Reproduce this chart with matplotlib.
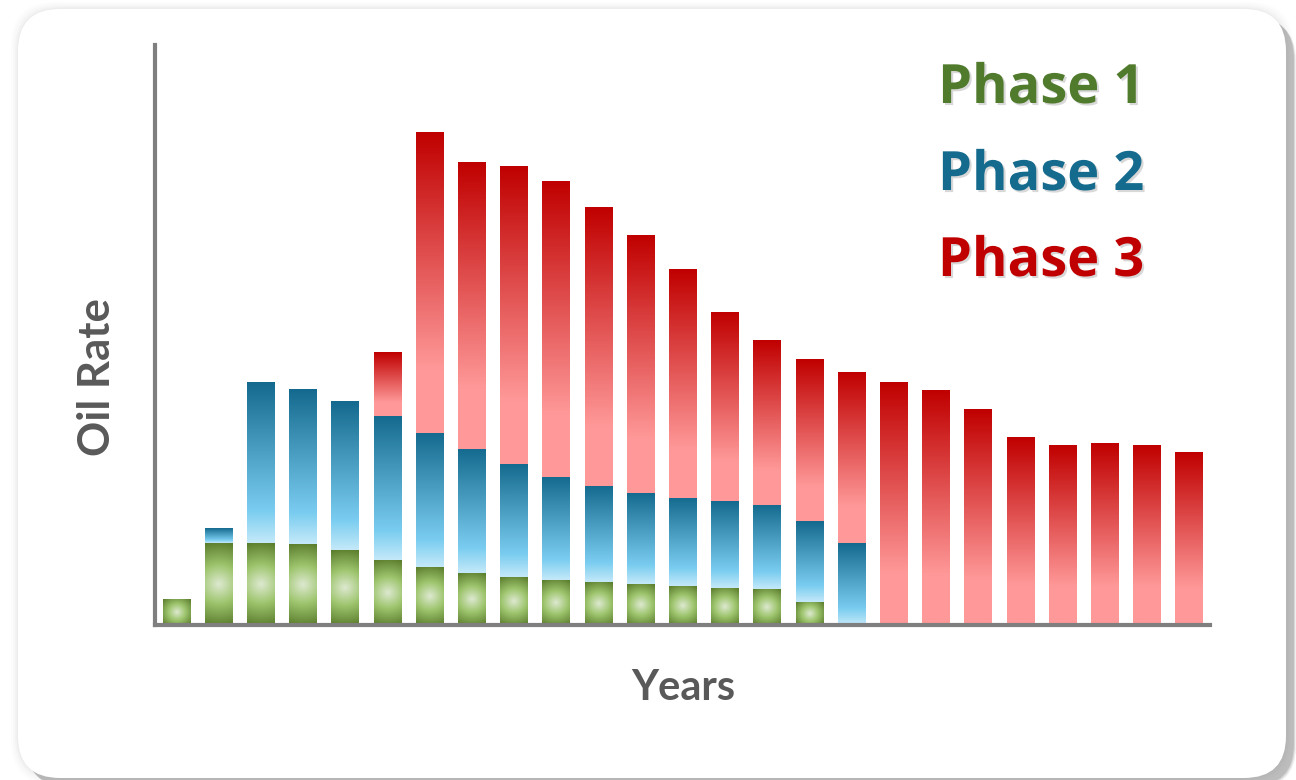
import numpy as np
import matplotlib
matplotlib.use("Agg")
import matplotlib.pyplot as plt
from matplotlib.colors import LinearSegmentedColormap
from matplotlib.patches import FancyBboxPatch
import matplotlib.patheffects as pe

# Oil rate by phase for each year (stacked, arbitrary units)
years = list(range(1, 26))
phase1 = [2.6, 8.2, 8.2, 8.1, 7.5, 6.5, 5.8, 5.2, 4.8, 4.5, 4.3, 4.1, 3.9, 3.7, 3.6, 2.3,
          0, 0, 0, 0, 0, 0, 0, 0, 0]
phase2 = [0, 1.5, 16.0, 15.4, 14.8, 14.4, 13.4, 12.4, 11.3, 10.3, 9.6, 9.1, 8.8, 8.7, 8.4, 8.1,
          8.2, 0, 0, 0, 0, 0, 0, 0, 0]
phase3 = [0, 0, 0, 0, 0, 6.4, 30.1, 28.7, 29.8, 29.6, 27.9, 25.8, 22.9, 18.8, 16.5, 16.1,
          17.0, 24.2, 23.4, 21.5, 18.7, 17.9, 18.1, 17.9, 17.2]
phase_labels = ["Phase 1", "Phase 2", "Phase 3"]
phase_colors = ["#507A2C", "#156B8E", "#C00000"]

W, H = 1296, 780
fig = plt.figure(figsize=(W / 100, H / 100), dpi=100)
fig.patch.set_facecolor("white")

# Card background with soft drop shadow
bg = fig.add_axes([0, 0, 1, 1])
bg.set_xlim(0, W)
bg.set_ylim(H, 0)
bg.axis("off")
for grow, a in [(14, 0.012), (10, 0.015), (6, 0.02), (3, 0.025)]:
    bg.add_patch(FancyBboxPatch((18 - grow * 0.5, 9 - grow * 0.5), 1268 + grow, 769 + grow,
                                boxstyle="round,pad=0,rounding_size=44",
                                fc="black", ec="none", alpha=a, zorder=1))
for off, a in [(10, 0.12), (9, 0.2), (8, 0.3)]:
    bg.add_patch(FancyBboxPatch((18 + off, 9 + off), 1268, 769,
                                boxstyle="round,pad=0,rounding_size=42",
                                fc="#808080", ec="none", alpha=a, zorder=2))
bg.add_patch(FancyBboxPatch((18, 9), 1268, 769, boxstyle="round,pad=0,rounding_size=42",
                            fc="white", ec="none", zorder=3))

# Plot area
left, right, top, bottom = 155, 1210, 45, 625
ax = fig.add_axes([left / W, 1 - bottom / H, (right - left) / W, (bottom - top) / H])
ax.set_facecolor("none")
ax.set_xlim(-0.5, len(years) - 0.5)
ax.set_ylim(0, 58)
for s in ["top", "right"]:
    ax.spines[s].set_visible(False)
for s in ["left", "bottom"]:
    ax.spines[s].set_color("#7F7F7F")
    ax.spines[s].set_linewidth(3)
    ax.spines[s].set_zorder(10)
ax.set_xticks([])
ax.set_yticks([])

red_cmap = LinearSegmentedColormap.from_list(
    "red", [(0, "#C00000"), (0.79, "#FF9999"), (1, "#FF9999")])
blue_cmap = LinearSegmentedColormap.from_list(
    "blue", [(0, "#146A8E"), (0.8, "#7ACDF0"), (1, "#C4E9F9")])
green_cmap = LinearSegmentedColormap.from_list(
    "green", [(0, "#DDE9D0"), (0.45, "#9EC56E"), (1, "#5A7C2C")])

x = np.arange(len(years))
width = 0.64
p1 = np.array(phase1)
p2 = np.array(phase2)
p3 = np.array(phase3)
bars1 = ax.bar(x, p1, width, color="none", edgecolor="none")
bars2 = ax.bar(x, p2, width, bottom=p1, color="none", edgecolor="none")
bars3 = ax.bar(x, p3, width, bottom=p1 + p2, color="none", edgecolor="none")


def linear_fill(patch, cmap):
    x0, y0 = patch.get_x(), patch.get_y()
    w, h = patch.get_width(), patch.get_height()
    if h <= 0:
        return
    grad = np.linspace(0, 1, 256).reshape(-1, 1)
    ax.imshow(grad, cmap=cmap, extent=(x0, x0 + w, y0, y0 + h), origin="upper",
              aspect="auto", interpolation="bilinear", zorder=2)


def radial_fill(patch, cmap):
    x0, y0 = patch.get_x(), patch.get_y()
    w, h = patch.get_width(), patch.get_height()
    if h <= 0:
        return
    (px0, py0), (px1, py1) = ax.transData.transform([(x0, y0), (x0 + w, y0 + h)])
    pw, ph = abs(px1 - px0), abs(py1 - py0)
    nx, ny = 64, max(8, int(ph * 1.5))
    xs = (np.linspace(0, 1, nx) - 0.5) * pw
    ys = (np.linspace(0, 1, ny) - 0.5) * ph
    XX, YY = np.meshgrid(xs, ys)
    r = np.sqrt(XX ** 2 + YY ** 2) / np.hypot(pw / 2, ph / 2)
    ax.imshow(r, cmap=cmap, vmin=0, vmax=1, extent=(x0, x0 + w, y0, y0 + h),
              origin="upper", aspect="auto", interpolation="bilinear", zorder=2)


for b in bars1:
    radial_fill(b, green_cmap)
for b in bars2:
    linear_fill(b, blue_cmap)
for b in bars3:
    linear_fill(b, red_cmap)

ax.set_xlim(-0.5, len(years) - 0.5)
ax.set_ylim(0, 58)

# Axis titles
fig.text(683 / W, 1 - 688 / H, "Years", ha="center", va="center",
         fontsize=30, fontweight="bold", color="#595959", family="Lato")
fig.text(97 / W, 1 - 377 / H, "Oil Rate", ha="center", va="center", rotation=90,
         fontsize=31.5, fontweight="bold", color="#595959", family="Lato")

# Phase legend
shadow = [pe.SimplePatchShadow(offset=(1.5, -1.5), shadow_rgbFace="#909090", alpha=0.35),
          pe.Normal()]
for lbl, col, yy in zip(phase_labels, phase_colors, [89, 176, 262]):
    fig.text(1041 / W, 1 - yy / H, lbl, ha="center", va="center", fontsize=39,
             fontweight="bold", color=col, family="Open Sans", path_effects=shadow)

fig.savefig("out.png", dpi=100)
